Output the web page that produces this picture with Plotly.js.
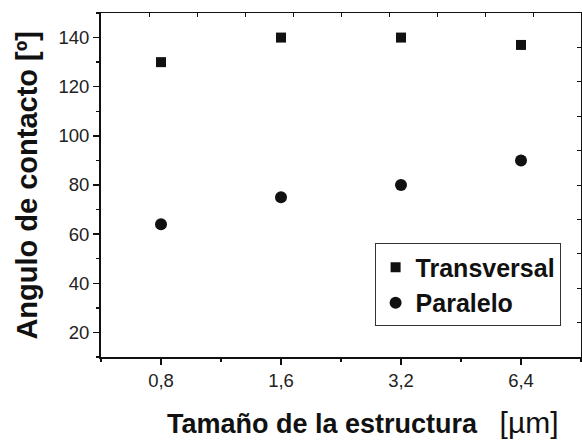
<!DOCTYPE html>
<html>
<head>
<meta charset="utf-8">
<script src="https://cdn.plot.ly/plotly-3.0.1.min.js"></script>
<style>html,body{margin:0;padding:0;background:#fff;}#chart{width:582px;height:441px;}</style>
</head>
<body>
<div id="chart"></div>
<script>
// Data
const sizes = ['0,8', '1,6', '3,2', '6,4'];          // Tamaño de la estructura [µm]
const transversal = [130, 140, 140, 137];            // Angulo de contacto [º]
const paralelo = [64, 75, 80, 90];
const yTickVals = [20, 40, 60, 80, 100, 120, 140];

const xPos = sizes.map((s, i) => i + 1);
const FONT = 'Liberation Sans, Arial, Helvetica, sans-serif';
const INK = '#111';

const traces = [
  {
    x: xPos, y: transversal, name: '<b>Transversal</b>', type: 'scatter', mode: 'markers',
    marker: {symbol: 'square', size: 10, color: INK}, cliponaxis: false
  },
  {
    x: xPos, y: paralelo, name: '<b>Paralelo</b>', type: 'scatter', mode: 'markers',
    marker: {symbol: 'circle', size: 12, color: INK}, cliponaxis: false
  },
  {
    x: [], y: [], xaxis: 'x2', yaxis: 'y2', type: 'scatter', mode: 'markers',
    showlegend: false, hoverinfo: 'skip'
  }
];

const layout = {
  width: 582, height: 441,
  margin: {l: 101, r: 1, t: 13, b: 84},
  paper_bgcolor: '#fff', plot_bgcolor: '#fff',
  font: {family: FONT, color: INK},
  showlegend: true,
  legend: {
    x: 0.57, y: 0.33, xanchor: 'left', yanchor: 'top',
    bordercolor: '#333', borderwidth: 1, bgcolor: '#fff',
    font: {family: FONT, size: 25, color: INK},
    tracegroupgap: 0, itemwidth: 30
  },
  xaxis: {
    range: [0.5, 4.5], tickmode: 'array', tickvals: xPos, ticktext: sizes,
    ticks: 'outside', ticklen: 6, tickwidth: 1.3, tickcolor: INK,
    tickfont: {family: FONT, size: 18.5, color: '#222'},
    showline: true, linecolor: INK, linewidth: 2,
    showgrid: false, zeroline: false,
    minor: {tickmode: 'linear', tick0: 0.5, dtick: 1, ticks: 'outside', ticklen: 3, tickcolor: INK, showgrid: false}
  },
  yaxis: {
    range: [10, 150], tickmode: 'array', tickvals: yTickVals,
    ticks: 'outside', ticklen: 6, tickwidth: 1.3, tickcolor: INK,
    tickfont: {family: FONT, size: 18.5, color: '#222'},
    showline: true, linecolor: INK, linewidth: 2,
    showgrid: false, zeroline: false,
    minor: {tickmode: 'linear', tick0: 10, dtick: 20, ticks: 'outside', ticklen: 3, tickcolor: INK, showgrid: false}
  },
  xaxis2: {
    overlaying: 'x', anchor: 'y2', side: 'top', range: [0, 10], dtick: 1,
    ticks: 'inside', ticklen: 4, tickcolor: INK, showticklabels: false,
    showline: true, linecolor: INK, linewidth: 1.5, showgrid: false, zeroline: false
  },
  yaxis2: {
    overlaying: 'y', anchor: 'x2', side: 'right', range: [0, 10], dtick: 1,
    ticks: 'inside', ticklen: 4, tickcolor: INK, showticklabels: false,
    showline: true, linecolor: INK, linewidth: 1.5, showgrid: false, zeroline: false
  },
  annotations: [
    {
      text: '<b>Angulo de contacto [º]</b>', textangle: -90,
      xref: 'paper', yref: 'paper', x: -0.155, y: 0.5, xanchor: 'center', yanchor: 'middle',
      showarrow: false, font: {family: FONT, size: 29, color: INK}
    },
    {
      text: '<b>Tamaño de la estructura</b>   <span style="font-size:30px">[µm]</span>',
      xref: 'paper', yref: 'paper', x: 0.545, y: -0.189, xanchor: 'center', yanchor: 'middle',
      showarrow: false, font: {family: FONT, size: 27, color: INK}
    }
  ]
};

Plotly.newPlot('chart', traces, layout, {displayModeBar: false, staticPlot: true});
</script>
</body>
</html>
